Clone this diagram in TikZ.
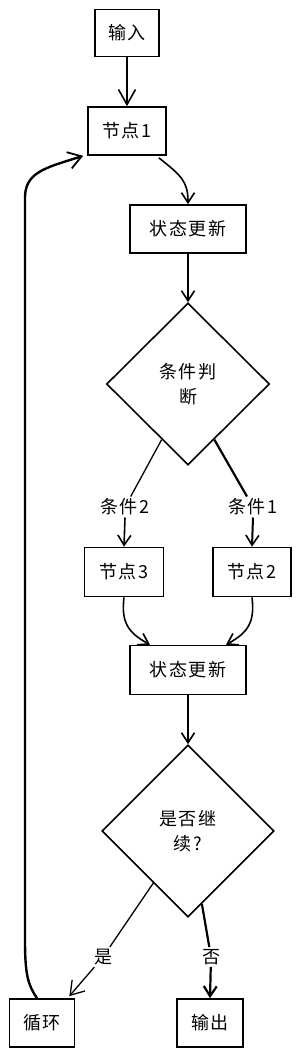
\documentclass[tikz,border=0pt]{standalone}
\usepackage{fontspec}
\newfontfamily\cjk[LetterSpace=10]{Noto Sans CJK SC}
\usetikzlibrary{shapes.geometric,arrows.meta,calc}
\begin{document}
\begin{tikzpicture}[x=1pt,y=-1pt,
  txt/.style={font=\cjk\fontsize{18}{25}\selectfont},
  box/.style={txt,draw,line width=1.7pt,inner sep=0pt,align=center},
  dia/.style={txt,draw,diamond,line width=1.6pt,inner sep=0pt,align=center},
  lbl/.style={txt,inner sep=2pt},
  link/.style={line width=1.6pt,-{Straight Barb[length=10pt,width=13pt,line width=1.6pt]}},
  plain/.style={line width=1.6pt}]
\useasboundingbox (0,0) rectangle (300,1057);
\node[box,minimum width=64pt,minimum height=47pt] (in) at (127,33) {输入};
\node[box,minimum width=78pt,minimum height=48pt] (n1) at (127,131) {节点1};
\node[box,minimum width=116pt,minimum height=48pt] (s1) at (188,229) {状态更新};
\node[dia,minimum width=163pt,minimum height=162pt] (d1) at (188,384) {条件判\\断};
\node[lbl] (c2) at (125,507) {条件2};
\node[lbl] (c1) at (253,507) {条件1};
\node[box,minimum width=79pt,minimum height=49pt] (n3) at (124,572) {节点3};
\node[box,minimum width=78pt,minimum height=49pt] (n2) at (252,572) {节点2};
\node[box,minimum width=116pt,minimum height=49pt] (s2) at (188,670) {状态更新};
\node[dia,minimum width=172pt,minimum height=172pt] (d2) at (188,831) {是否继\\续?};
\node[lbl] (yes) at (103,957) {是};
\node[lbl] (no) at (211,957) {否};
\node[box,minimum width=65pt,minimum height=48pt] (loop) at (42,1023) {循环};
\node[box,minimum width=66pt,minimum height=48pt] (out) at (210,1023) {输出};

\draw[line width=1.6pt,-{Straight Barb[length=15pt,width=17pt,line width=1.6pt]}] (in) -- (n1);
\draw[link] ($(n1.south east)+(-8,2)$) .. controls (182,176) and (188,182) .. (s1.north);
\draw[link] (s1) -- (d1);
\draw[plain,line width=1.3pt] ($(d1.south)!0.32!(d1.west)$) -- (c2);
\draw[plain,line width=2.2pt] ($(d1.south)!0.32!(d1.east)$) -- (c1);
\draw[link] (c2.south) -- (n3.north);
\draw[link,line width=2pt] (c1.south) -- (n2.north);
\draw[link] (n3.south) .. controls +(-3,25) and +(-22,-12) .. ($(s2.north)+(-38,0)$);
\draw[link] (n2.south) .. controls +(3,25) and +(22,-12) .. ($(s2.north)+(38,0)$);
\draw[link] (s2) -- (d2);
\draw[plain,line width=1.3pt] ($(d2.south)!0.4!(d2.west)$) -- (yes);
\draw[plain,line width=2.2pt] ($(d2.south)!0.16!(d2.east)$) -- (no);
\draw[line width=1.3pt,-{Straight Barb[length=13pt,width=17pt,line width=1.3pt]}] (yes) -- ($(loop.north east)+(-6,-2)$);
\draw[line width=2.2pt,-{Straight Barb[length=10pt,width=13pt,line width=2.2pt]}] (no) -- (out.north);
\draw[line width=2.4pt,-{Straight Barb[length=13pt,width=17pt,line width=1.8pt]}]
  ($(loop.north)+(-5,0)$) .. controls (28,985) and (25,975) .. (25,940)
  -- (25,200) .. controls (24,172) and (45,168) .. ($(n1.south west)+(-4,0)$);
\end{tikzpicture}
\end{document}
